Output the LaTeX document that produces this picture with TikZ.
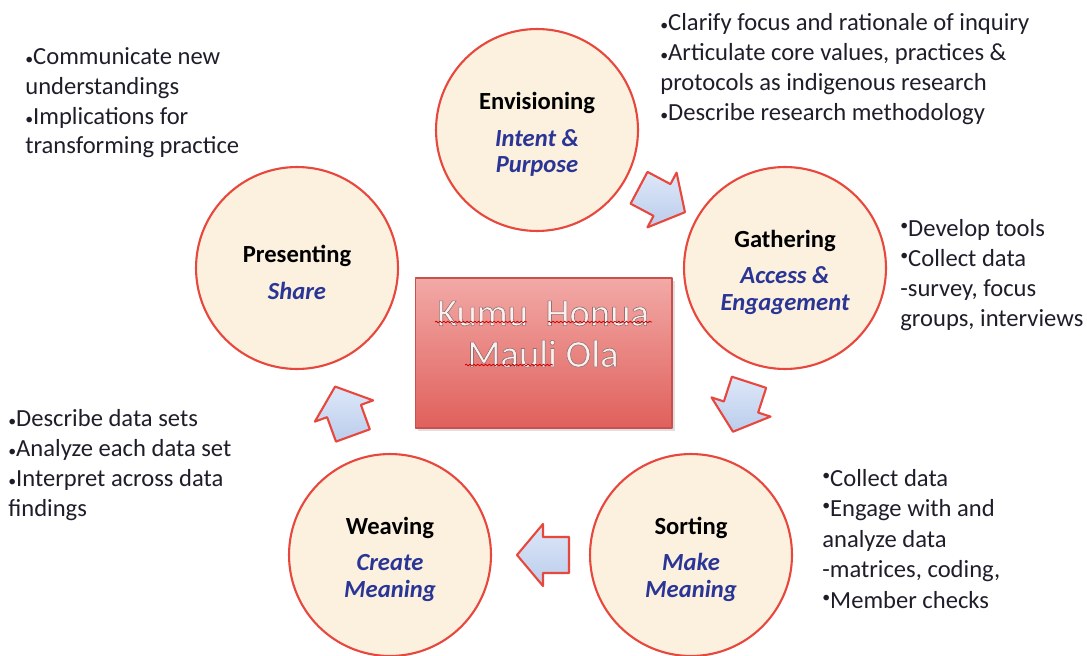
\documentclass[tikz,border=0pt]{standalone}
\usepackage{fontspec}
\setmainfont{Carlito}
\usetikzlibrary{shadows,decorations.pathmorphing}

\definecolor{ringred}{HTML}{E8473D}
\definecolor{ringfill}{HTML}{FBF1DE}
\definecolor{stageblue}{HTML}{2A3596}
\definecolor{arrowtop}{HTML}{DDE7F8}
\definecolor{arrowbot}{HTML}{BBCDEC}
\definecolor{boxtop}{HTML}{F2A9A6}
\definecolor{boxbot}{HTML}{E0605C}
\definecolor{boxline}{HTML}{C9514D}
\definecolor{notetext}{HTML}{1E1E2A}

% stage title and blue subtitle lines
\newcommand{\head}[1]{\rule{0pt}{14.5pt}\textbf{#1}}
\newcommand{\sub}[1]{{\color{stageblue}\bfseries\itshape #1}}
% bullets
\newcommand{\bul}{{\fontsize{9}{9}\selectfont•}}
\newcommand{\topdot}{\raisebox{0.5ex}{\fontsize{9}{9}\selectfont•}}
% outlined letters for the centre box
\newcommand{\outlined}{\special{pdf:literal direct 2 Tr 0.35 w 0.56 0.45 0.45 RG}}
% block arrow: centre, angle
\newcommand{\flowarrow}[2]{%
  \draw[flow, shift={#1}, rotate=#2] (-26,-18) -- (0,-18) -- (0,-31) -- (26,0) -- (0,31) -- (0,18) -- (-26,18) -- cycle;}

\begin{document}
\begin{tikzpicture}[x=0.02cm, y=-0.02cm, line join=round,
    ring/.style={circle, draw=ringred, line width=1.2pt, fill=ringfill, minimum size=4.04cm,
      align=center, inner sep=0pt, font=\fontsize{14}{15}\selectfont},
    note/.style={align=left, inner sep=0pt, text=notetext, font=\fontsize{14}{17}\selectfont},
    flow/.style={draw=ringred, line width=1.2pt, top color=arrowtop, bottom color=arrowbot},
    corebox/.style={draw=boxline, line width=0.6pt, top color=boxtop, bottom color=boxbot,
      minimum width=5.14cm, minimum height=3cm, inner sep=0pt,
      drop shadow={opacity=0.25, shadow xshift=1.5pt, shadow yshift=-1.5pt}},
    spellwave/.style={draw=red!80!black, line width=0.45pt, decorate,
      decoration={snake, amplitude=0.45pt, segment length=2.2pt}}]
  \useasboundingbox (0,0) rectangle (1087,655);

  % centre box
  \node[corebox] (core) at (543.5,353) {};
  \node[align=center, inner sep=0pt, text=white!94!red, font=\fontsize{22}{23.5}\selectfont]
    (coretitle) at (543,334) {\outlined Kumu\ \ Honua\\Mauli Ola\special{pdf:literal direct 0 Tr}};
  \draw[spellwave] (435,322) -- (527,322);
  \draw[spellwave] (548,322) -- (652,322);
  \draw[spellwave] (465,365) -- (553,365);

  % the five stages
  \node[ring] (envision) at (537,130) {\head{Envisioning}\\[6pt]\sub{Intent \&}\\\sub{Purpose}};
  \node[ring] (gather) at (785,268) {\head{Gathering}\\[6pt]\sub{Access \&}\\\sub{Engagement}};
  \node[ring] (sort) at (691,555) {\head{Sorting}\\[6pt]\sub{Make}\\\sub{Meaning}};
  \node[ring] (weave) at (390,555) {\head{Weaving}\\[6pt]\sub{Create}\\\sub{Meaning}};
  \node[ring] (present) at (297,268) {\head{Presenting}\\[6pt]\sub{Share}};

  % arrows round the cycle
  \flowarrow{(662,200)}{-28}
  \flowarrow{(741,407)}{-108}
  \flowarrow{(543,555)}{180}
  \flowarrow{(344,411)}{110}

  % notes
  \node[note, anchor=north west] (envnote) at (660,13)
    {\bul Clarify focus and rationale of inquiry\\\bul Articulate core values, practices \&\\protocols as indigenous research\\\bul Describe research methodology};
  \node[note, anchor=north west] (gathnote) at (900,219)
    {\topdot Develop tools\\\topdot Collect data\\-survey, focus\\groups, interviews};
  \node[note, anchor=north west, font=\fontsize{14}{17.3}\selectfont] (sortnote) at (822,469)
    {\topdot Collect data\\\topdot Engage with and\\analyze data\\-matrices, coding,\\\topdot Member checks};
  \node[note, anchor=north west] (weavenote) at (8,409)
    {\bul Describe data sets\\\bul Analyze each data set\\\bul Interpret across data\\findings};
  \node[note, anchor=north west] (presnote) at (25,47)
    {\bul Communicate new\\understandings\\\bul Implications for\\transforming practice};
\end{tikzpicture}
\end{document}
